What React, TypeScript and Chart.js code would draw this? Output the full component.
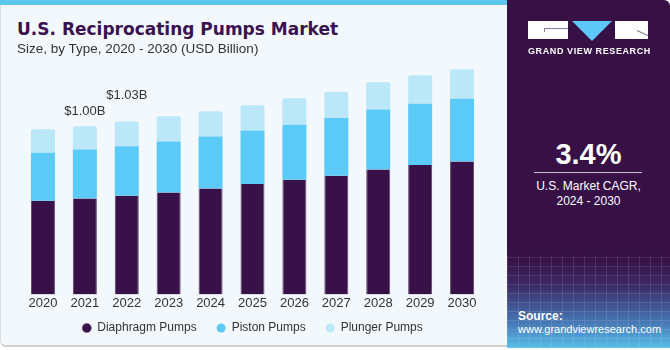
import React, { useEffect, useRef } from "react";
import { Chart, registerables } from "chart.js";

Chart.register(...registerables);

const years = ["2020", "2021", "2022", "2023", "2024", "2025", "2026", "2027", "2028", "2029", "2030"];
const diaphragm = [0.557, 0.571, 0.587, 0.607, 0.631, 0.657, 0.683, 0.707, 0.744, 0.77, 0.792];
const piston = [0.286, 0.292, 0.295, 0.304, 0.31, 0.319, 0.327, 0.343, 0.357, 0.365, 0.373];
const plunger = [0.14, 0.138, 0.148, 0.15, 0.15, 0.15, 0.158, 0.157, 0.163, 0.17, 0.176];
const totalLabels = ["", "$1.00B", "$1.03B", "", "", "", "", "", "", "", ""];
const labelOffsets = [0, 15, 26, 0, 0, 0, 0, 0, 0, 0, 0];

const C_DARK = "#381148";
const C_MID = "#5ccaf6";
const C_LIGHT = "#bbe8f9";
const FONT = "'Liberation Sans', Arial, sans-serif";

const totalLabelPlugin = {
  id: "totalLabels",
  afterLayout(chart: any) {
    // pull the legend a little closer to the axis labels
    if (chart.legend) {
      chart.legend.top -= 10;
      chart.legend.bottom -= 10;
    }
  },
  afterDatasetsDraw(chart: any) {
    const ctx = chart.ctx;
    const meta = chart.getDatasetMeta(2);
    ctx.save();
    ctx.font = `13px ${FONT}`;
    ctx.fillStyle = "#333333";
    ctx.textAlign = "center";
    ctx.textBaseline = "middle";
    meta.data.forEach((el: any, i: number) => {
      const t = totalLabels[i];
      if (!t) return;
      ctx.fillText(t, el.x, el.y - labelOffsets[i]);
    });
    ctx.restore();
  },
};

function BarChart() {
  const ref = useRef<HTMLCanvasElement | null>(null);
  useEffect(() => {
    if (!ref.current) return;
    const chart = new Chart(ref.current, {
      type: "bar",
      data: {
        labels: years,
        datasets: [
          { label: "Diaphragm Pumps", data: diaphragm, backgroundColor: C_DARK, borderColor: "#5e4470", borderWidth: { left: 1, right: 1, top: 0, bottom: 0 } as any },
          { label: "Piston Pumps", data: piston, backgroundColor: C_MID },
          { label: "Plunger Pumps", data: plunger, backgroundColor: C_LIGHT, borderRadius: { topLeft: 2, topRight: 2, bottomLeft: 0, bottomRight: 0 } as any, borderSkipped: false },
        ],
      },
      options: {
        animation: false,
        responsive: false,
        maintainAspectRatio: false,
        layout: { padding: { left: 22, right: 23, top: 0, bottom: 0 } },
        datasets: { bar: { categoryPercentage: 1, barPercentage: 0.573 } },
        scales: {
          x: {
            stacked: true,
            offset: true,
            grid: { display: false, drawTicks: false },
            border: { display: false },
            ticks: { color: "#333333", font: { family: FONT, size: 13 }, padding: 1, maxRotation: 0 },
          },
          y: { stacked: true, display: false, min: 0, max: 1.515 },
        },
        plugins: {
          legend: {
            position: "bottom",
            labels: {
              usePointStyle: true,
              pointStyle: "circle",
              boxWidth: 9,
              boxHeight: 6.4,
              padding: 20,
              color: "#333333",
              font: { family: FONT, size: 12 },
            },
          },
          tooltip: { enabled: false },
        },
      },
      plugins: [totalLabelPlugin],
    });
    return () => chart.destroy();
  }, []);
  return <canvas ref={ref} width={506} height={314} style={{ position: "absolute", left: 0, top: 40, width: 506, height: 314 }} />;
}

export default function App() {
  return (
    <div style={{ position: "fixed", left: 0, top: 0, width: 670, height: 350, background: "#ffffff", overflow: "hidden", fontFamily: FONT }}>
      {/* left card */}
      <div style={{ position: "absolute", left: 0, top: 0, width: 512, height: 347, background: "#f3f8fc", borderBottom: "2px solid #cfcfcf", borderLeft: "1px solid #d8dde2", borderBottomLeftRadius: 6, boxSizing: "border-box" }} />
      <BarChart />
      <div style={{ position: "absolute", left: 0, top: 0, width: 512, height: 5, background: "#5bc6ee" }} />
      <div style={{ position: "absolute", left: 17, top: 19, fontFamily: "'DejaVu Sans', 'Liberation Sans', sans-serif", fontWeight: 700, fontSize: 17, lineHeight: "20px", color: "#3a1250", whiteSpace: "nowrap" }}>U.S. Reciprocating Pumps Market</div>
      <div style={{ position: "absolute", left: 17, top: 41, fontSize: 13.5, color: "#333333", whiteSpace: "nowrap" }}>Size, by Type, 2020 - 2030 (USD Billion)</div>
      {/* right panel */}
      <div style={{ position: "absolute", left: 507, top: 0, width: 163, height: 348, borderTopRightRadius: 6, overflow: "hidden", background: "linear-gradient(180deg, #371046 0%, #371046 74%, #3b2a66 82%, #4572b0 92%, #58bde9 100%)" }}>
        <div style={{ position: "absolute", left: 0, top: 255, width: 163, height: 93, opacity: 0.18, backgroundImage: "repeating-linear-gradient(90deg, rgba(255,255,255,0.6) 0px, rgba(255,255,255,0.6) 1px, transparent 1px, transparent 11px), repeating-linear-gradient(0deg, rgba(255,255,255,0.6) 0px, rgba(255,255,255,0.6) 1px, transparent 1px, transparent 9px)" }} />
        {/* logo */}
        <div style={{ position: "absolute", left: 21, top: 21, width: 40, height: 18, background: "#ffffff" }}>
          <div style={{ position: "absolute", left: 16, top: 7, width: 24, height: 1, background: "#8a7a95" }} />
          <div style={{ position: "absolute", left: 16, top: 7, width: 1, height: 4, background: "#8a7a95" }} />
        </div>
        <div style={{ position: "absolute", left: 65, top: 21, width: 0, height: 0, borderLeft: "20px solid transparent", borderRight: "20px solid transparent", borderTop: "20px solid #5bc8f5" }} />
        <div style={{ position: "absolute", left: 108, top: 21, width: 33, height: 18, background: "#ffffff", overflow: "hidden" }}>
          <div style={{ position: "absolute", left: 22, top: 9, width: 12, height: 1, background: "#8a7a95", transform: "rotate(25deg)", transformOrigin: "left" }} />
        </div>
        <div style={{ position: "absolute", left: 21, top: 46, width: 120, textAlign: "center", fontSize: 9, fontWeight: 700, letterSpacing: 0.6, color: "#ffffff", whiteSpace: "nowrap" }}>GRAND VIEW RESEARCH</div>
        {/* CAGR */}
        <div style={{ position: "absolute", left: 0, top: 138, width: 163, textAlign: "center", fontSize: 29, fontWeight: 700, color: "#ffffff" }}>3.4%</div>
        <div style={{ position: "absolute", left: 27, top: 172, width: 108, height: 1, background: "#c9bdd3" }} />
        <div style={{ position: "absolute", left: 0, top: 179, width: 163, textAlign: "center", fontSize: 12, lineHeight: "15px", color: "#ffffff" }}>U.S. Market CAGR,<br />2024 - 2030</div>
        {/* source */}
        <div style={{ position: "absolute", left: 11, top: 309, fontSize: 12, fontWeight: 700, color: "#ffffff" }}>Source:</div>
        <div style={{ position: "absolute", left: 11, top: 323, fontSize: 11, color: "#ffffff", whiteSpace: "nowrap" }}>www.grandviewresearch.com</div>
      </div>
    </div>
  );
}
